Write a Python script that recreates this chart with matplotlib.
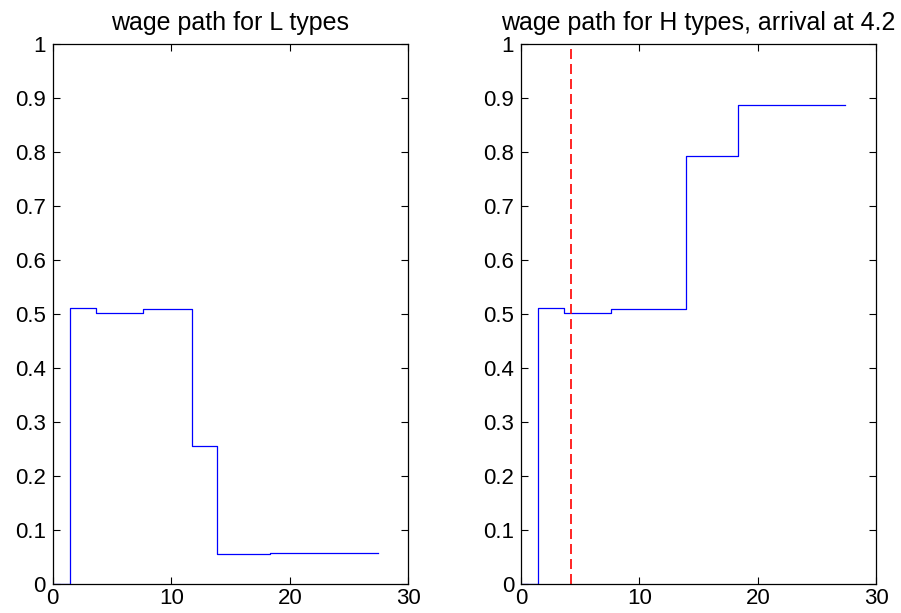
import numpy as np
import matplotlib
matplotlib.use('Agg')
import matplotlib.pyplot as plt

plt.rcParams['font.family'] = ['Liberation Sans', 'DejaVu Sans']

# time points where the wage changes
t_steps = [0, 1.47, 3.67, 7.62, 11.72, 13.9, 18.32, 27.4]
# wage levels holding from each time point on
wage_L = [0, 0.511, 0.503, 0.509, 0.257, 0.056, 0.058, 0.058]
wage_H = [0, 0.511, 0.503, 0.509, 0.509, 0.794, 0.888, 0.888]
arrival_H = 4.2

x_ticks = [0, 10, 20, 30]
y_ticks = [0, 0.1, 0.2, 0.3, 0.4, 0.5, 0.6, 0.7, 0.8, 0.9, 1]
y_ticklabels = ['0', '0.1', '0.2', '0.3', '0.4', '0.5', '0.6', '0.7', '0.8', '0.9', '1']

fig = plt.figure(figsize=(9.01, 6.13), dpi=100)
ax1 = fig.add_axes([0.0585, 0.0468, 0.3947, 0.8809])
ax2 = fig.add_axes([0.5782, 0.0468, 0.3943, 0.8809])


def style_axes(ax, title):
    ax.set_xlim(0, 30)
    ax.set_ylim(0, 1)
    ax.set_xticks(x_ticks)
    ax.set_yticks(y_ticks)
    ax.set_yticklabels(y_ticklabels)
    ax.tick_params(direction='in', top=True, right=True, length=5, width=0.8,
                   labelsize=16, pad=5)
    ax.tick_params(axis='x', pad=3)
    for sp in ax.spines.values():
        sp.set_linewidth(0.9)
    ax.set_title(title, fontsize=18, pad=10)


ax1.step(t_steps, wage_L, where='post', color='blue', lw=0.9)
style_axes(ax1, 'wage path for L types')

ax2.step(t_steps, wage_H, where='post', color='blue', lw=0.9)
ax2.axvline(arrival_H, color='#ff0000', lw=1.2, linestyle=(0, (6, 3)))
style_axes(ax2, 'wage path for H types, arrival at %.1f' % arrival_H)

fig.savefig('out.png', dpi=100)
